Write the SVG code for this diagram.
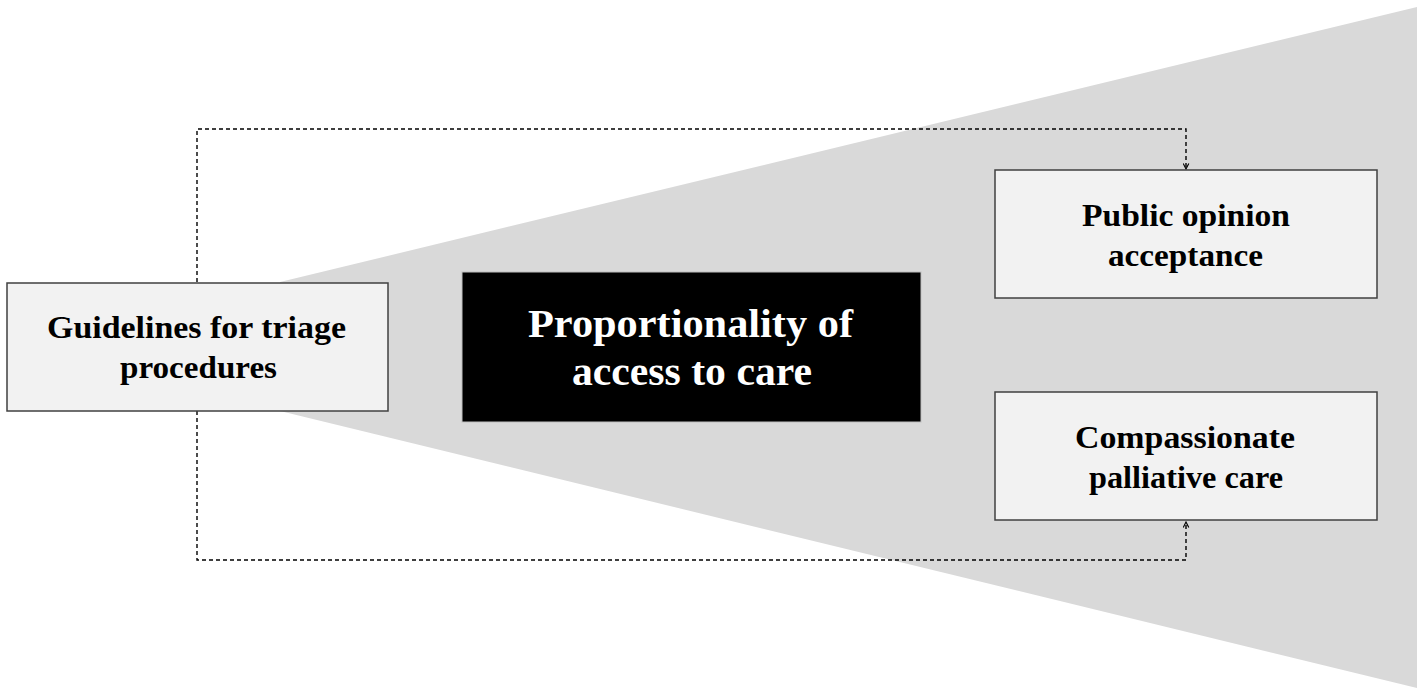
<svg xmlns="http://www.w3.org/2000/svg" width="1417" height="694" viewBox="0 0 1417 694">
<style>
.box{fill:#f2f2f2;stroke:#404040;stroke-width:1.5}
.t{font-family:"Liberation Serif","Times New Roman",serif;font-weight:bold;font-size:31px;fill:#000;text-anchor:middle}
.tw{font-family:"Liberation Serif","Times New Roman",serif;font-weight:bold;font-size:41px;fill:#fff;text-anchor:middle}
.dash{fill:none;stroke:#000;stroke-width:1.4;stroke-dasharray:4,3}
</style>
<defs>
<marker id="arr" viewBox="0 0 10 10" refX="9" refY="5" markerWidth="7" markerHeight="7" orient="auto" markerUnits="userSpaceOnUse">
<path d="M1,1 L9,5 L1,9" fill="none" stroke="#000" stroke-width="1.6"/>
</marker>
</defs>
<rect width="1417" height="694" fill="#fff"/>
<polygon points="280,282 1417,7 1417,688 280,411" fill="#d9d9d9"/>
<g id="connectors">
<path class="dash" d="M197,282 V129 H1186 V169" marker-end="url(#arr)"/>
<path class="dash" d="M197,411 V560 H1186 V522" marker-end="url(#arr)"/>
</g>
<g id="guidelines">
<rect class="box" x="7" y="283" width="381" height="128"/>
<text class="t" x="196.5" y="338" textLength="299" lengthAdjust="spacingAndGlyphs">Guidelines for triage</text>
<text class="t" x="198.5" y="378" textLength="157" lengthAdjust="spacingAndGlyphs">procedures</text>
</g>
<g id="proportionality">
<rect x="462" y="272" width="459" height="150" fill="#000" stroke="#bfbfbf" stroke-width="1"/>
<text class="tw" x="690.5" y="337" textLength="325" lengthAdjust="spacingAndGlyphs">Proportionality of</text>
<text class="tw" x="692" y="385" textLength="240" lengthAdjust="spacingAndGlyphs">access to care</text>
</g>
<g id="public">
<rect class="box" x="995" y="170" width="382" height="128"/>
<text class="t" x="1186" y="226" textLength="208" lengthAdjust="spacingAndGlyphs">Public opinion</text>
<text class="t" x="1185.5" y="266" textLength="155" lengthAdjust="spacingAndGlyphs">acceptance</text>
</g>
<g id="compassionate">
<rect class="box" x="995" y="392" width="382" height="128"/>
<text class="t" x="1185" y="448" textLength="220" lengthAdjust="spacingAndGlyphs">Compassionate</text>
<text class="t" x="1186" y="488" textLength="194" lengthAdjust="spacingAndGlyphs">palliative care</text>
</g>
</svg>
